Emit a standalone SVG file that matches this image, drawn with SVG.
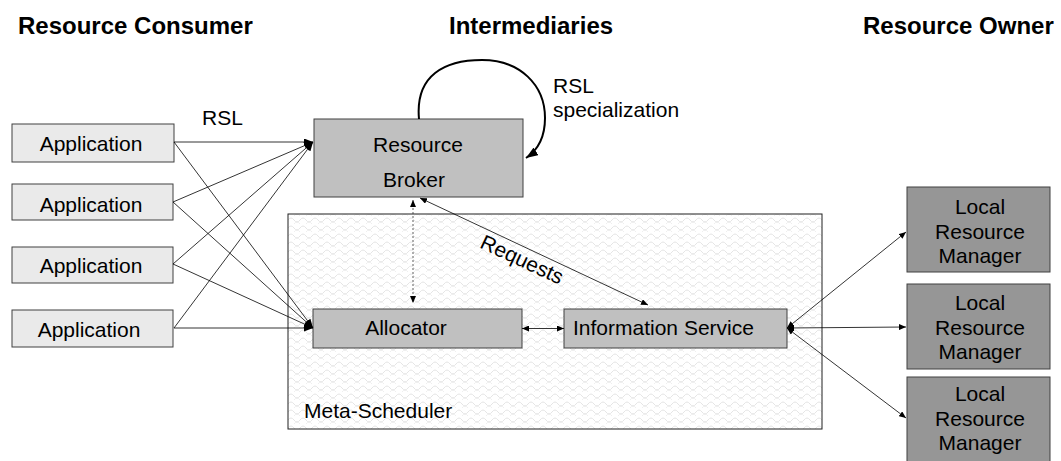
<svg xmlns="http://www.w3.org/2000/svg" width="1061" height="461" viewBox="0 0 1061 461">
<style>
text{font-family:"Liberation Sans",Arial,sans-serif;font-size:21px;fill:#000}
.hdr{font-weight:bold;font-size:24px}
.app{fill:#eaeaea;stroke:#404040;stroke-width:1}
.mid{fill:#c0c0c0;stroke:#404040;stroke-width:1}
.lrm{fill:#969696;stroke:#404040;stroke-width:1}
.c{text-anchor:middle}
.ln{stroke:#000;stroke-width:0.8;fill:none}
</style>
<defs>
<marker id="ah" markerWidth="9" markerHeight="7" refX="9" refY="3.5" orient="auto-start-reverse" markerUnits="userSpaceOnUse">
<path d="M0,0 L9,3.5 L0,7 z" fill="#000"/>
</marker>
<marker id="ahs" markerWidth="7" markerHeight="6" refX="7" refY="3" orient="auto-start-reverse" markerUnits="userSpaceOnUse">
<path d="M0,0 L7,3 L0,6 z" fill="#000"/>
</marker>
<marker id="ahb" markerWidth="12" markerHeight="9" refX="12" refY="4.5" orient="auto" markerUnits="userSpaceOnUse">
<path d="M0,0 L12,4.5 L0,9 z" fill="#000"/>
</marker>
<pattern id="wave" width="12" height="8" patternUnits="userSpaceOnUse">
<rect width="12" height="8" fill="#ffffff"/>
<path d="M0,4 Q3,0 6,4 T12,4" stroke="#e2e2e2" stroke-width="0.9" fill="none"/>
<path d="M-6,8 Q-3,4 0,8 T6,8 T12,8 T18,8" stroke="#e8e8e8" stroke-width="0.7" fill="none"/>
</pattern>
</defs>

<g id="headers">
<text class="hdr" x="18" y="34">Resource Consumer</text>
<text class="hdr" x="449" y="34">Intermediaries</text>
<text class="hdr" x="863" y="34">Resource Owner</text>
</g>

<g id="meta-scheduler">
<rect x="288" y="214" width="534" height="215" fill="url(#wave)" stroke="#202020" stroke-width="1"/>
<text x="304" y="418">Meta-Scheduler</text>
</g>

<g id="app1"><rect class="app" x="12" y="124" width="162" height="38"/><text class="c" x="91" y="151">Application</text></g>
<g id="app2"><rect class="app" x="12" y="184" width="161" height="36"/><text class="c" x="91" y="212">Application</text></g>
<g id="app3"><rect class="app" x="12" y="247" width="161" height="36"/><text class="c" x="91" y="273">Application</text></g>
<g id="app4"><rect class="app" x="12" y="310" width="161" height="37"/><text class="c" x="89" y="337">Application</text></g>

<g id="resource-broker">
<rect class="mid" x="314" y="119" width="209" height="78"/>
<text class="c" x="418" y="152">Resource</text>
<text class="c" x="414" y="187">Broker</text>
</g>

<g id="allocator">
<rect class="mid" x="313" y="309" width="209" height="39"/>
<text class="c" x="406" y="335">Allocator</text>
</g>

<g id="information-service">
<rect class="mid" x="564" y="309" width="223" height="39"/>
<text x="573" y="335">Information Service</text>
</g>

<g id="lrm1"><rect class="lrm" x="907" y="187" width="143" height="85"/>
<text class="c" x="980" y="214">Local</text><text class="c" x="980" y="239">Resource</text><text class="c" x="980" y="263">Manager</text></g>
<g id="lrm2"><rect class="lrm" x="907" y="284" width="143" height="85"/>
<text class="c" x="980" y="310">Local</text><text class="c" x="980" y="335">Resource</text><text class="c" x="980" y="359">Manager</text></g>
<g id="lrm3"><rect class="lrm" x="907" y="377" width="143" height="90"/>
<text class="c" x="980" y="401">Local</text><text class="c" x="980" y="426">Resource</text><text class="c" x="980" y="450">Manager</text></g>

<g id="labels">
<text x="202" y="125">RSL</text>
<text x="553" y="93">RSL</text>
<text x="553" y="117">specialization</text>
<text class="c" transform="translate(519,266) rotate(25)">Requests</text>
</g>

<g id="connectors">
<line class="ln" x1="174" y1="142" x2="313" y2="142" marker-end="url(#ah)"/>
<line class="ln" x1="173" y1="202" x2="313" y2="142" marker-end="url(#ah)"/>
<line class="ln" x1="173" y1="264" x2="313" y2="142" marker-end="url(#ah)"/>
<line class="ln" x1="174" y1="328" x2="313" y2="142" marker-end="url(#ah)"/>
<line class="ln" x1="174" y1="142" x2="313" y2="328" marker-end="url(#ah)"/>
<line class="ln" x1="173" y1="202" x2="313" y2="328" marker-end="url(#ah)"/>
<line class="ln" x1="173" y1="264" x2="313" y2="328" marker-end="url(#ah)"/>
<line class="ln" x1="174" y1="328" x2="313" y2="328" marker-end="url(#ah)"/>
<path d="M419,119 C415,75 445,60 482,60 C520,60 545,85 545,118 C545,138 538,150 526,158" fill="none" stroke="#000" stroke-width="2" marker-end="url(#ahb)"/>
<line x1="413" y1="200" x2="413" y2="303" stroke="#333" stroke-width="0.8" stroke-dasharray="2,2" marker-start="url(#ahs)" marker-end="url(#ahs)"/>
<line class="ln" x1="420" y1="198" x2="648" y2="305" marker-start="url(#ahs)" marker-end="url(#ahs)"/>
<line class="ln" x1="522" y1="328.5" x2="564" y2="328.5" marker-start="url(#ahs)" marker-end="url(#ahs)"/>
<line class="ln" x1="787" y1="328" x2="906" y2="232" marker-start="url(#ahs)" marker-end="url(#ahs)"/>
<line class="ln" x1="787" y1="328" x2="906" y2="327" marker-start="url(#ahs)" marker-end="url(#ahs)"/>
<line class="ln" x1="787" y1="328" x2="906" y2="418" marker-start="url(#ahs)" marker-end="url(#ahs)"/>
</g>
</svg>
